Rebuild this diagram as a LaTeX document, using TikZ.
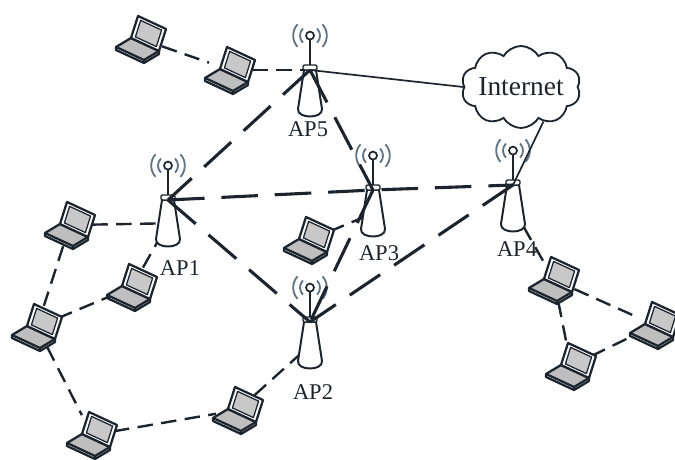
\documentclass[tikz,border=0pt]{standalone}
\usepackage{fontspec}
\setmainfont{Liberation Serif}
\usetikzlibrary{shapes.symbols}
\definecolor{ink}{RGB}{28,36,46}
\definecolor{wave}{RGB}{95,115,135}
\definecolor{screen}{RGB}{200,200,200}
\definecolor{keys}{RGB}{190,190,190}
\pgfdeclarelayer{bg}
\pgfdeclarelayer{links}
\pgfsetlayers{bg,links,main}

\tikzset{
  apspot/.style={rectangle, minimum width=0.45cm, minimum height=1.15cm,
    inner sep=0pt, anchor=north},
  apball/.style={circle, draw=ink, fill=white, line width=1.2pt,
    minimum size=0.2cm, inner sep=0pt},
  aplink/.style={draw=ink, line width=2.2pt, dash pattern=on 26pt off 12pt},
  laplink/.style={draw=ink, line width=1.7pt, dash pattern=on 11pt off 6pt},
  netlink/.style={draw=ink, line width=1.2pt},
  lapspot/.style={circle, minimum size=1.1cm, inner sep=0pt},
  aplabel/.style={font=\fontsize{16}{18}\selectfont, text=ink, inner sep=0pt},
  laptop/.pic={
    \node[lapspot] (-n) at (0,0) {};
    % keyboard half with its front edge
    \filldraw[draw=ink, fill=keys, line width=1.6pt, line join=round]
      (-10,-1) -- (18,12) -- (3,21) -- (-25,8) -- cycle;
    \draw[ink, line width=1.6pt, line join=round]
      (-25,8) -- (-25,11) -- (3,24) -- (18,15) -- (18,12) (3,21) -- (3,24);
    % lid and display
    \filldraw[draw=ink, fill=white, line width=1.6pt, line join=round]
      (-10,-1) -- (-3,-23) -- (25,-10) -- (18,12) -- cycle;
    \filldraw[draw=ink, fill=screen, line width=0.9pt, line join=round]
      (-5.6,-2.1) -- (-0.4,-18.6) -- (20.6,-8.9) -- (15.4,7.6) -- cycle;
  }
}

% access point: tapered body, collar, mast, antenna ball and radio waves
\newcommand\accesspoint[3]{%
  \node[apspot] (#1) at (#2,#3) {};
  \begin{scope}[shift={(#2,#3)}]
    \filldraw[draw=ink, fill=white, line width=1.4pt, line join=round]
      (-6,0) -- (-12,39) .. controls (-13,49) and (13,49) .. (12,39) -- (6,0) -- cycle;
    \filldraw[draw=ink, fill=white, line width=1pt, rounded corners=1pt]
      (-7,0) rectangle (7,-5);
  \end{scope}
  \node[apball] (#1-ball) at ([yshift=0.86cm]#1.north) {};
  \draw[ink, line width=1.4pt] ([yshift=0.12cm]#1.north) -- (#1-ball.south);
  \draw[wave, line width=1.3pt]
    ([shift={(135:0.25cm)}]#1-ball.center) arc[start angle=135, end angle=225, radius=0.25cm]
    ([shift={(138:0.42cm)}]#1-ball.center) arc[start angle=138, end angle=222, radius=0.42cm]
    ([shift={(-45:0.25cm)}]#1-ball.center) arc[start angle=-45, end angle=45, radius=0.25cm]
    ([shift={(-42:0.42cm)}]#1-ball.center) arc[start angle=-42, end angle=42, radius=0.42cm];
}

\begin{document}
\begin{tikzpicture}[x=0.025cm, y=-0.025cm]
  \useasboundingbox (0,0) rectangle (675,459);
  \begin{pgfonlayer}{bg}
    \fill[white] (0,0) rectangle (675,459);
  \end{pgfonlayer}

  % cloud
  \node[cloud, draw=ink, fill=white, line width=1.3pt, cloud puffs=10,
        cloud puff arc=120, cloud ignores aspect, minimum width=2.95cm,
        minimum height=2.05cm, inner sep=0pt, text=ink,
        font=\fontsize{19.5}{22}\selectfont] (inet) at (521,87) {Internet};

  % access points
  \accesspoint{ap5}{310}{70}
  \accesspoint{ap1}{168}{200}
  \accesspoint{ap3}{373}{190}
  \accesspoint{ap4}{513}{185}
  \accesspoint{ap2}{310}{322}

  \node[aplabel] (ap5-label) at (308,129) {AP5};
  \node[aplabel] (ap1-label) at (180,268) {AP1};
  \node[aplabel] (ap3-label) at (379,253) {AP3};
  \node[aplabel] (ap4-label) at (517,249) {AP4};
  \node[aplabel] (ap2-label) at (313,392) {AP2};

  % laptops
  \pic (l1) at (141,39) {laptop};
  \pic (l2) at (230,70) {laptop};
  \pic (l3) at (70,225) {laptop};
  \pic (l4) at (132,287) {laptop};
  \pic (l5) at (37,327) {laptop};
  \pic (l6) at (92,435) {laptop};
  \pic (l7) at (238,410) {laptop};
  \pic (l8) at (309,240) {laptop};
  \pic (l9) at (554,280) {laptop};
  \pic (l10) at (655,325) {laptop};
  \pic (l11) at (571,366) {laptop};

  % wired uplinks
  \draw[netlink] (ap5.north) -- (inet.west);
  \draw[netlink] (ap4.north) -- (inet.-57);

  % mesh backbone
  \draw[aplink] (ap1.north) -- (ap3.north) -- (ap4.north);
  \draw[aplink] (ap5.north) -- (ap1.north);
  \draw[aplink] (ap5.north) -- (ap3.north);
  \draw[aplink] (ap1.north) -- (ap2.north);
  \draw[aplink] (ap3.north) -- (ap2.north);
  \draw[aplink] (ap4.north) -- (ap2.north);

  % client links
  \begin{pgfonlayer}{links}
    \draw[laplink] (l1-n) -- (l2-n);
    \draw[laplink] (l2-n) -- (ap5.north);
    \draw[laplink] (l3-n) -- (ap1);
    \draw[laplink] (l4-n) -- (ap1);
    \draw[laplink] (l3-n) -- (l5-n);
    \draw[laplink] (l5-n) -- (l4-n);
    \draw[laplink] (l5-n) -- (l6-n);
    \draw[laplink] (l6-n) -- (l7-n);
    \draw[laplink] (l7-n) -- (ap2);
    \draw[laplink] (l8-n) -- (ap3);
    \draw[laplink] (l9-n) -- (ap4);
    \draw[laplink] (l9-n) -- (l10-n);
    \draw[laplink] (l9-n) -- (l11-n);
    \draw[laplink] (l11-n) -- (l10-n);
  \end{pgfonlayer}
\end{tikzpicture}
\end{document}
